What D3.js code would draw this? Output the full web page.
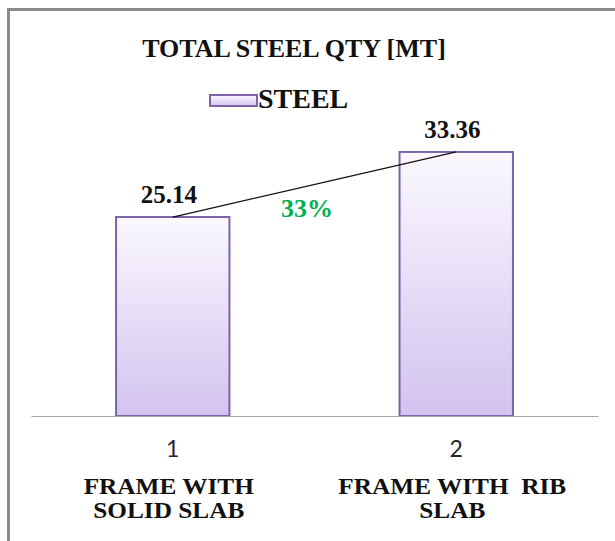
<!DOCTYPE html>
<html lang="en">
<head>
    <meta charset="utf-8">
    <title>Total Steel Qty</title>
    <style>
        body { margin: 0; background: #fff; }
        .axis path { stroke: #a6a6a6; }
        text.lbl { font-family: "Liberation Serif", "Times New Roman", "DejaVu Serif", serif; font-weight: bold; fill: #111; }
    </style>
</head>
<body>
<svg width="615" height="541"></svg>
<script src="https://d3js.org/d3.v7.min.js"></script>
<script>
    // chart data
    var categories = ["1", "2"];
    var categoryLabels = [["FRAME WITH", "SOLID SLAB"], ["FRAME WITH  RIB", "SLAB"]];
    var steelValues = [25.14, 33.36];
    var seriesName = "STEEL";
    var growthLabel = "33%";
    var chartTitle = "TOTAL STEEL QTY [MT]";

    var svg = d3.select("svg");
    var serif = "'Liberation Serif', 'Times New Roman', 'DejaVu Serif', serif";

    // outer frame (only top and left edges fall inside the picture)
    svg.append("rect")
        .attr("x", 8.5).attr("y", 9.5)
        .attr("width", 700).attr("height", 600)
        .attr("fill", "none")
        .attr("stroke", "#8a8a8a")
        .attr("stroke-width", 3);

    var defs = svg.append("defs");
    var grad = defs.append("linearGradient")
        .attr("id", "barFill")
        .attr("x1", 0).attr("y1", 0).attr("x2", 0).attr("y2", 1);
    grad.append("stop").attr("offset", "0%").attr("stop-color", "#fbf8ff");
    grad.append("stop").attr("offset", "100%").attr("stop-color", "#d2c3ef");

    var x = d3.scaleBand()
        .domain(categories)
        .range([31, 598])
        .paddingInner(0.6)
        .paddingOuter(0.3);

    var y = d3.scaleLinear()
        .domain([0, 40])
        .range([416, 99.4]);

    // bars
    svg.append("g").selectAll("rect")
        .data(steelValues)
        .enter().append("rect")
        .attr("x", function (d, i) { return x(categories[i]); })
        .attr("y", function (d) { return y(d); })
        .attr("width", x.bandwidth())
        .attr("height", function (d) { return y(0) - y(d); })
        .attr("fill", "url(#barFill)")
        .attr("stroke", "#7d64a8")
        .attr("stroke-width", 2);

    // axis baseline and tick labels
    var axis = svg.append("g")
        .attr("class", "axis")
        .attr("transform", "translate(0," + y(0) + ")")
        .call(d3.axisBottom(x).tickSize(0).tickSizeOuter(0).tickPadding(25));
    axis.selectAll("text")
        .attr("font-family", "Lato, 'Open Sans', sans-serif")
        .attr("font-size", 23)
        .attr("fill", "#262626");

    // category names under the numbers (text in the source is slightly stretched)
    categoryLabels.forEach(function (lines, i) {
        var cx = x(categories[i]) + x.bandwidth() / 2 - 4;
        lines.forEach(function (t, j) {
            svg.append("text")
                .attr("class", "lbl")
                .attr("font-family", serif)
                .attr("transform", "translate(" + cx + "," + (494 + j * 24) + ") scale(1.1,1)")
                .attr("text-anchor", "middle")
                .attr("font-size", 23)
                .style("white-space", "pre")
                .text(t);
        });
    });

    // value labels
    svg.append("g").selectAll("text")
        .data(steelValues)
        .enter().append("text")
        .attr("class", "lbl")
        .attr("font-family", serif)
        .attr("x", function (d, i) { return x(categories[i]) + x.bandwidth() / 2 - 4; })
        .attr("y", function (d) { return y(d) - 14; })
        .attr("text-anchor", "middle")
        .attr("font-size", 25)
        .text(function (d) { return d.toFixed(2); });

    // trend line between bar tops
    var cx0 = x(categories[0]) + x.bandwidth() / 2;
    var cx1 = x(categories[1]) + x.bandwidth() / 2;
    svg.append("line")
        .attr("x1", cx0).attr("y1", y(steelValues[0]))
        .attr("x2", cx1).attr("y2", y(steelValues[1]))
        .attr("stroke", "#111")
        .attr("stroke-width", 1.3);

    svg.append("text")
        .attr("class", "lbl")
        .attr("font-family", serif)
        .attr("x", 307)
        .attr("y", 217)
        .attr("text-anchor", "middle")
        .attr("font-size", 26)
        .style("fill", "#00b050")
        .text(growthLabel);

    // title
    svg.append("text")
        .attr("class", "lbl")
        .attr("font-family", serif)
        .attr("x", 294)
        .attr("y", 57)
        .attr("text-anchor", "middle")
        .attr("font-size", 26)
        .text(chartTitle);

    // legend
    svg.append("rect")
        .attr("x", 210).attr("y", 95)
        .attr("width", 47).attr("height", 11)
        .attr("fill", "url(#barFill)")
        .attr("stroke", "#7d64a8")
        .attr("stroke-width", 2);
    svg.append("text")
        .attr("class", "lbl")
        .attr("font-family", serif)
        .attr("x", 258)
        .attr("y", 108)
        .attr("font-size", 28)
        .text(seriesName);
</script>
</body>
</html>
